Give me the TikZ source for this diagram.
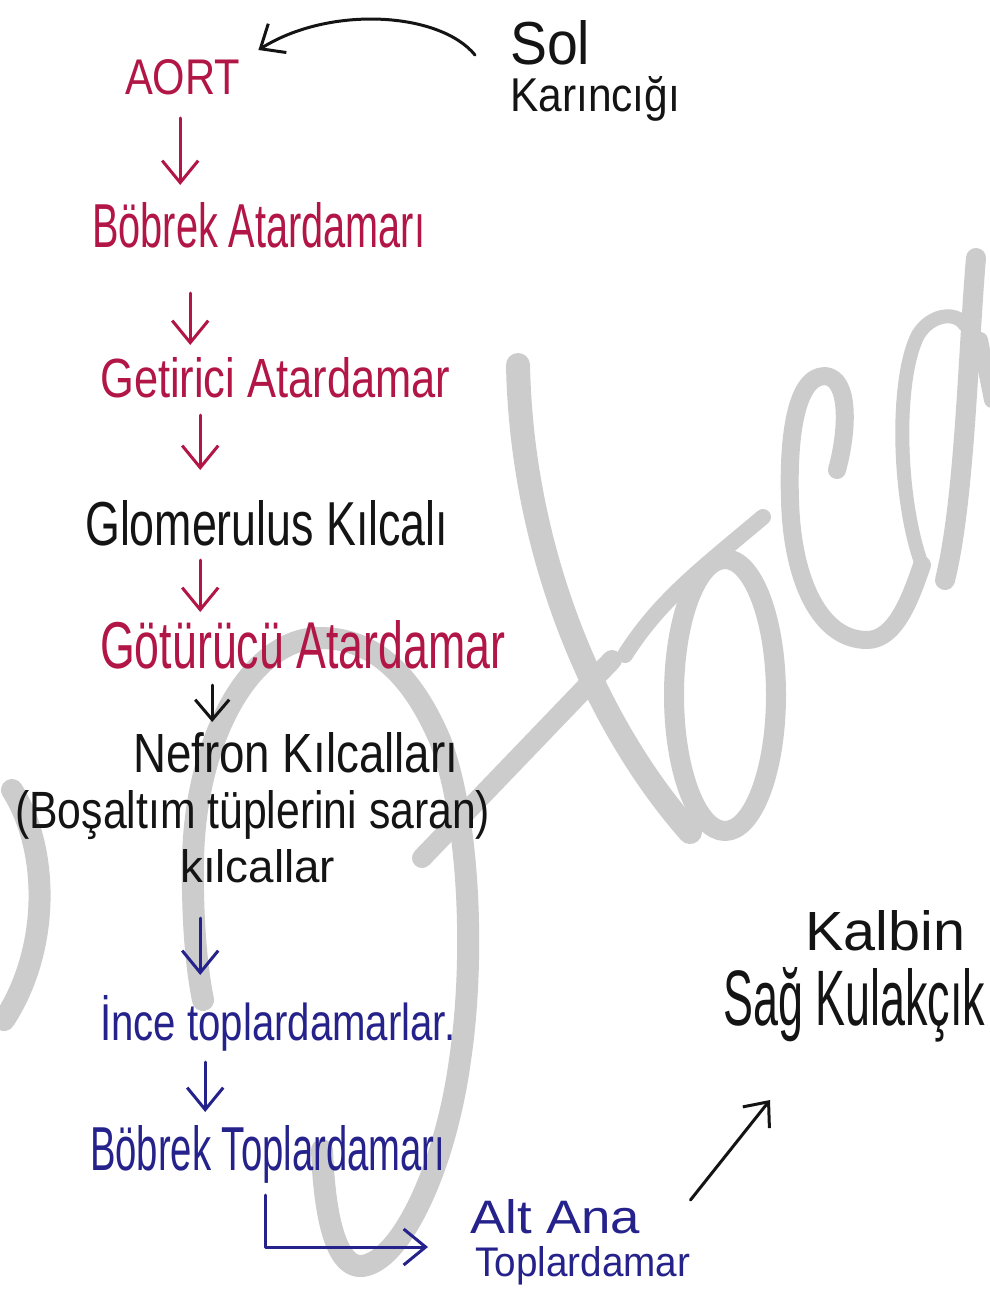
\documentclass[tikz,border=0pt]{standalone}
\usepackage{fontspec}
\setmainfont{Liberation Sans}
\usepackage{graphicx}
\usetikzlibrary{arrows.meta}
\definecolor{myred}{RGB}{178,22,70}
\definecolor{myblue}{RGB}{38,34,140}
\definecolor{myblack}{RGB}{20,20,20}
\definecolor{wmgray}{RGB}{204,204,204}
\newcommand\hw[3]{\resizebox{#1pt}{#2pt}{#3}}
\tikzset{
  lbl/.style={inner sep=0pt, anchor=base west},
  wm/.style={draw=wmgray, line cap=round, line join=round, line width=22pt},
  hand/.style={line width=3pt, line cap=round, line join=round},
  rarr/.style={hand, draw=myred, -{Straight Barb[length=22pt,width=36pt]}},
  karr/.style={hand, draw=myblack, -{Straight Barb[length=20pt,width=34pt]}},
  barr/.style={hand, draw=myblue, -{Straight Barb[length=22pt,width=36pt]}}
}
\begin{document}
\begin{tikzpicture}[x=1pt,y=-1pt]
\useasboundingbox (0,0) rectangle (989,1295);
\fill[white] (0,0) rectangle (989,1295);
% watermark
\draw[wm] (12,790) .. controls (50,850) and (50,950) .. (4,1020);
\draw[wm] (322,1150) .. controls (325,1230) and (340,1268) .. (362,1266)
  .. controls (400,1262) and (445,1170) .. (460,1060)
  .. controls (475,960) and (470,820) .. (440,740)
  .. controls (410,670) and (370,638) .. (320,638)
  .. controls (250,638) and (195,740) .. (193,860)
  .. controls (192,930) and (198,975) .. (203,1000);
\draw[wm, line width=24pt] (518,365) .. controls (522,560) and (600,730) .. (690,832);
\draw[wm, line width=20pt] (422,858) -- (612,660);
\draw[wm, line width=16pt] (625,655) .. controls (660,600) and (700,570) .. (763,517);
\draw[wm, line width=20pt] (725,695) ellipse [x radius=51, y radius=136];
\draw[wm, line width=18pt] (837,470) .. controls (848,430) and (850,378) .. (825,376)
  .. controls (795,376) and (788,440) .. (790,500)
  .. controls (792,580) and (820,640) .. (867,640)
  .. controls (895,640) and (910,600) .. (922,565);
\draw[wm, line width=14pt] (922,565) .. controls (898,500) and (895,380) .. (918,335)
  .. controls (930,315) and (955,310) .. (965,325);
\draw[wm, line width=20pt] (976,258) .. controls (968,350) and (965,500) .. (945,580);
\draw[wm, line width=16pt] (980,340) -- (992,400);
% texts
\node[lbl, text=myblack] (sol) at (510,65) {\hw{80}{44}{Sol}};
\node[lbl, text=myblack] (karin) at (510,112) {\hw{170}{35}{Karıncığı}};
\node[lbl, text=myred] (aort) at (125,95) {\hw{115}{35}{AORT}};
\node[lbl, text=myred] (bobrek) at (92,247) {\hw{333}{45}{Böbrek Atardamarı}};
\node[lbl, text=myred] (getirici) at (100,397) {\hw{350}{40}{Getirici Atardamar}};
\node[lbl, text=myblack] (glom) at (85,545) {\hw{363}{45}{Glomerulus Kılcalı}};
\node[lbl, text=myred] (gotur) at (100,668) {\hw{405}{48}{Götürücü Atardamar}};
\node[lbl, text=myblack] (nefron) at (133,772) {\hw{325}{40}{Nefron Kılcalları}};
\node[lbl, text=myblack] (bosal) at (15,828) {\hw{475}{38}{(Boşaltım tüplerini saran)}};
\node[lbl, text=myblack] (kilc) at (180,882) {\hw{155}{33}{kılcallar}};
\node[lbl, text=myblue] (ince) at (100,1040) {\hw{355}{45}{İnce toplardamarlar.}};
\node[lbl, text=myblue] (btop) at (90,1170) {\hw{355}{45}{Böbrek Toplardamarı}};
\node[lbl, text=myblue] (alt) at (470,1233) {\hw{170}{34}{Alt Ana}};
\node[lbl, text=myblue] (topl) at (475,1276) {\hw{215}{30}{Toplardamar}};
\node[lbl, text=myblack] (kalbin) at (805,950) {\hw{160}{40}{Kalbin}};
\node[lbl, text=myblack] (sag) at (723,1025) {\hw{262}{58}{Sağ Kulakçık}};
% connectors
\draw[karr] ([shift={(-35,-10)}]sol.base west) .. controls (440,12) and (330,5) .. ([shift={(18,-45)}]aort.base east);
\draw[rarr] ([shift={(-2.5,23)}]aort.base) -- ++(0,67);
\draw[rarr] ([shift={(-68.5,46)}]bobrek.base) -- ++(0,52);
\draw[rarr] ([shift={(-75,18)}]getirici.base) -- ++(0,55);
\draw[rarr] ([shift={(-66.5,15)}]glom.base) -- ++(0,52);
\draw[karr] ([shift={(-90.5,17)}]gotur.base) -- ++(0,37);
\draw[barr] ([shift={(-57.5,36)}]kilc.base) -- ++(0,57);
\draw[barr] ([shift={(-72.5,22)}]ince.base) -- ++(0,50);
\draw[barr] ([shift={(-2.5,25)}]btop.base) |- ([shift={(-42,14)}]alt.base west);
\draw[karr] ([shift={(50,-33)}]alt.base east) -- ([shift={(47,75)}]sag.base west);
\end{tikzpicture}
\end{document}
